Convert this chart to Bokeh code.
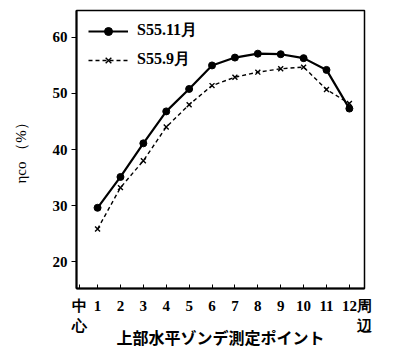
from bokeh.plotting import figure
from bokeh.models import Range1d, FixedTicker, Legend, LegendItem
from bokeh.embed import file_html
from bokeh.resources import INLINE

points = [1, 2, 3, 4, 5, 6, 7, 8, 9, 10, 11, 12]
s_nov = [29.6, 35.1, 41.1, 46.8, 50.8, 55.0, 56.4, 57.1, 57.0, 56.3, 54.2, 47.3]
s_sep = [25.8, 33.2, 38.0, 44.0, 48.0, 51.4, 52.9, 53.8, 54.4, 54.7, 50.7, 48.2]
label_nov = "S55.11月"
label_sep = "S55.9月"
y_ticks = [20, 30, 40, 50, 60]
end_labels = ["中\n心", "周\n辺"]
end_pos = [0.2, 12.65]

p = figure(width=398, height=353, output_backend="svg", toolbar_location=None,
           x_range=Range1d(0.08, 12.66), y_range=Range1d(15.2, 64.8),
           min_border_left=76, min_border_right=34, min_border_top=10, min_border_bottom=65)
p.grid.visible = False
p.outline_line_color = "black"
p.outline_line_width = 1.5
p.background_fill_color = "white"
p.border_fill_color = "white"

r1 = p.line(points, s_nov, line_color="black", line_width=2.2)
m1 = p.scatter(points, s_nov, marker="circle", size=7, fill_color="black", line_color="black")
r2 = p.line(points, s_sep, line_color="black", line_width=1.4, line_dash="4 3")
m2 = p.scatter(points, s_sep, marker="x", size=7, line_color="black", line_width=1.4)

legend = Legend(items=[LegendItem(label=label_nov, renderers=[r1, m1]),
                       LegendItem(label=label_sep, renderers=[r2, m2])],
                location=(12, 218), padding=0, margin=0, spacing=8,
                glyph_width=40, glyph_height=20, label_height=20, label_standoff=9,
                border_line_alpha=0, background_fill_alpha=0,
                label_text_font="Liberation Serif", label_text_font_style="bold",
                label_text_font_size="16px", label_text_color="black")
p.add_layout(legend)

ticks = [end_pos[0]] + points + [end_pos[1]]
overrides = {end_pos[0]: end_labels[0], end_pos[1]: end_labels[1]}

xa = p.xaxis[0]
xa.ticker = FixedTicker(ticks=ticks)
xa.major_label_overrides = overrides
xa.axis_line_width = 2
xa.axis_line_color = "black"
xa.major_tick_line_color = "black"
xa.major_tick_in = 4
xa.major_tick_out = 0
xa.minor_tick_line_color = None
xa.major_label_text_font = "Liberation Serif"
xa.major_label_text_font_style = "bold"
xa.major_label_text_font_size = "15px"
xa.major_label_text_line_height = 1.3
xa.major_label_text_color = "black"
xa.major_label_standoff = 9
xa.axis_label = "上部水平ゾンデ測定ポイント"
xa.axis_label_text_font = "Noto Sans CJK JP"
xa.axis_label_text_font_style = "bold"
xa.axis_label_text_font_size = "16px"
xa.axis_label_text_color = "black"
xa.axis_label_standoff = -12

ya = p.yaxis[0]
ya.ticker = FixedTicker(ticks=y_ticks)
ya.axis_line_width = 2
ya.axis_line_color = "black"
ya.major_tick_line_color = "black"
ya.major_tick_in = 0
ya.major_tick_out = 5
ya.minor_tick_line_color = None
ya.major_label_text_font = "Liberation Serif"
ya.major_label_text_font_style = "bold"
ya.major_label_text_font_size = "15px"
ya.major_label_text_color = "black"
ya.major_label_standoff = 4
ya.axis_label = "ηco （%）"
ya.axis_label_text_font = "Liberation Serif"
ya.axis_label_text_font_style = "normal"
ya.axis_label_text_font_size = "15px"
ya.axis_label_text_color = "black"
ya.axis_label_standoff = 21

open("out.html", "w").write(file_html(p, INLINE))
